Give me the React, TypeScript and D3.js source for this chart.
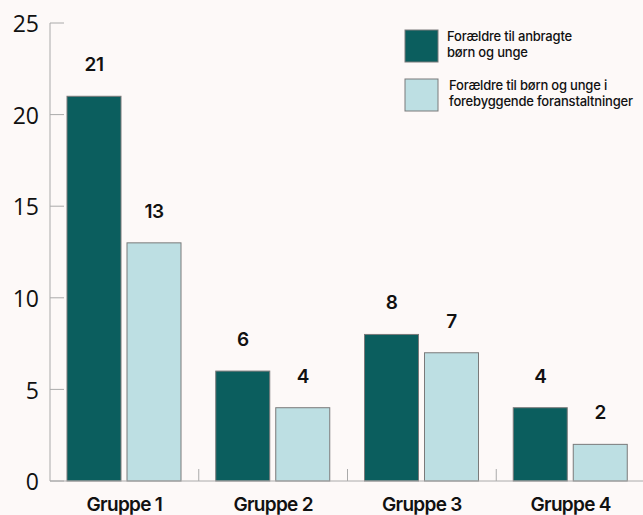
import React from "react";
import * as d3 from "d3";

const categories = ["Gruppe 1", "Gruppe 2", "Gruppe 3", "Gruppe 4"];
const seriesNames = [
  ["Forældre til anbragte", "børn og unge"],
  ["Forældre til børn og unge i", "forebyggende foranstaltninger"],
];
const seriesA = [21, 6, 8, 4];
const seriesB = [13, 4, 7, 2];
const yTicks = [0, 5, 10, 15, 20, 25];
const colors = ["#0b5e5e", "#bddfe3"];

const W = 643;
const H = 515;
const left = 50;
const right = 645;
const y0 = 481;
const yTop = 23;

export default function App() {
  const x = d3.scaleBand<string>().domain(categories).range([left, right]).paddingInner(0).paddingOuter(0);
  const y = d3.scaleLinear().domain([0, 25]).range([y0, yTop]);
  const series = [seriesA, seriesB];
  const barW = 54;
  const gap = 6;
  const font = "Inter, 'Liberation Sans', Arial, sans-serif";
  return (
    <div style={{ position: "absolute", left: 0, top: 0 }}>
      <svg width={W} height={H} style={{ display: "block", background: "#fdf9f8" }}>
        <rect x={0} y={0} width={W} height={H} fill="#fdf9f8" />
        {/* y axis */}
        <line x1={left} x2={left} y1={yTop} y2={y0} stroke="#aaa" strokeWidth={1} />
        {yTicks.map((t) => (
          <g key={t}>
            <line x1={left} x2={left + 14} y1={y(t)} y2={y(t)} stroke="#aaa" strokeWidth={1} />
            <text
              x={39}
              y={y(t) + 1}
              dy="0.36em"
              textAnchor="end"
              fontFamily="'Open Sans', Lato, sans-serif"
              fontSize={23}
              fill="#111"
            >
              {t}
            </text>
          </g>
        ))}
        {/* bars */}
        {categories.map((c, i) => {
          const bx = (x(c) as number) + 17;
          return (
            <g key={c}>
              {series.map((s, j) => {
                const xx = bx + j * (barW + gap);
                return (
                  <g key={j}>
                    <rect
                      x={xx}
                      y={y(s[i])}
                      width={barW}
                      height={y0 - y(s[i])}
                      fill={colors[j]}
                      stroke="#7a7a7a"
                      strokeWidth={1}
                    />
                    <text
                      x={xx + barW / 2}
                      y={y(s[i]) - 25}
                      textAnchor="middle"
                      fontFamily={font}
                      fontSize={19}
                      fontWeight={600}
                      letterSpacing={-0.5}
                      fill="#111"
                    >
                      {s[i]}
                    </text>
                  </g>
                );
              })}
              <text
                x={(x(c) as number) + x.bandwidth() / 2}
                y={511}
                textAnchor="middle"
                fontFamily={font}
                fontSize={19}
                fontWeight={600}
                letterSpacing={-0.7}
                fill="#111"
              >
                {c}
              </text>
            </g>
          );
        })}
        {/* baseline and separators */}
        <line x1={left} x2={W} y1={y0} y2={y0} stroke="#aaa" strokeWidth={1} />
        {categories.slice(1).map((c) => (
          <line key={c} x1={x(c) as number} x2={x(c) as number} y1={y0} y2={y0 - 12} stroke="#aaa" strokeWidth={1} />
        ))}
        {/* legend */}
        {seriesNames.map((lines, j) => {
          const ly = 30 + j * 49;
          return (
            <g key={j}>
              <rect x={405} y={ly} width={33} height={32} fill={colors[j]} stroke="#7a7a7a" strokeWidth={1} />
              {lines.map((l, k) => (
                <text
                  key={k}
                  x={447 + j * 2}
                  y={ly + 11 + k * 16}
                  fontFamily={font}
                  fontSize={13}
                  fontWeight={500}
                  letterSpacing={-0.2}
                  fill="#111"
                >
                  {l}
                </text>
              ))}
            </g>
          );
        })}
      </svg>
    </div>
  );
}
